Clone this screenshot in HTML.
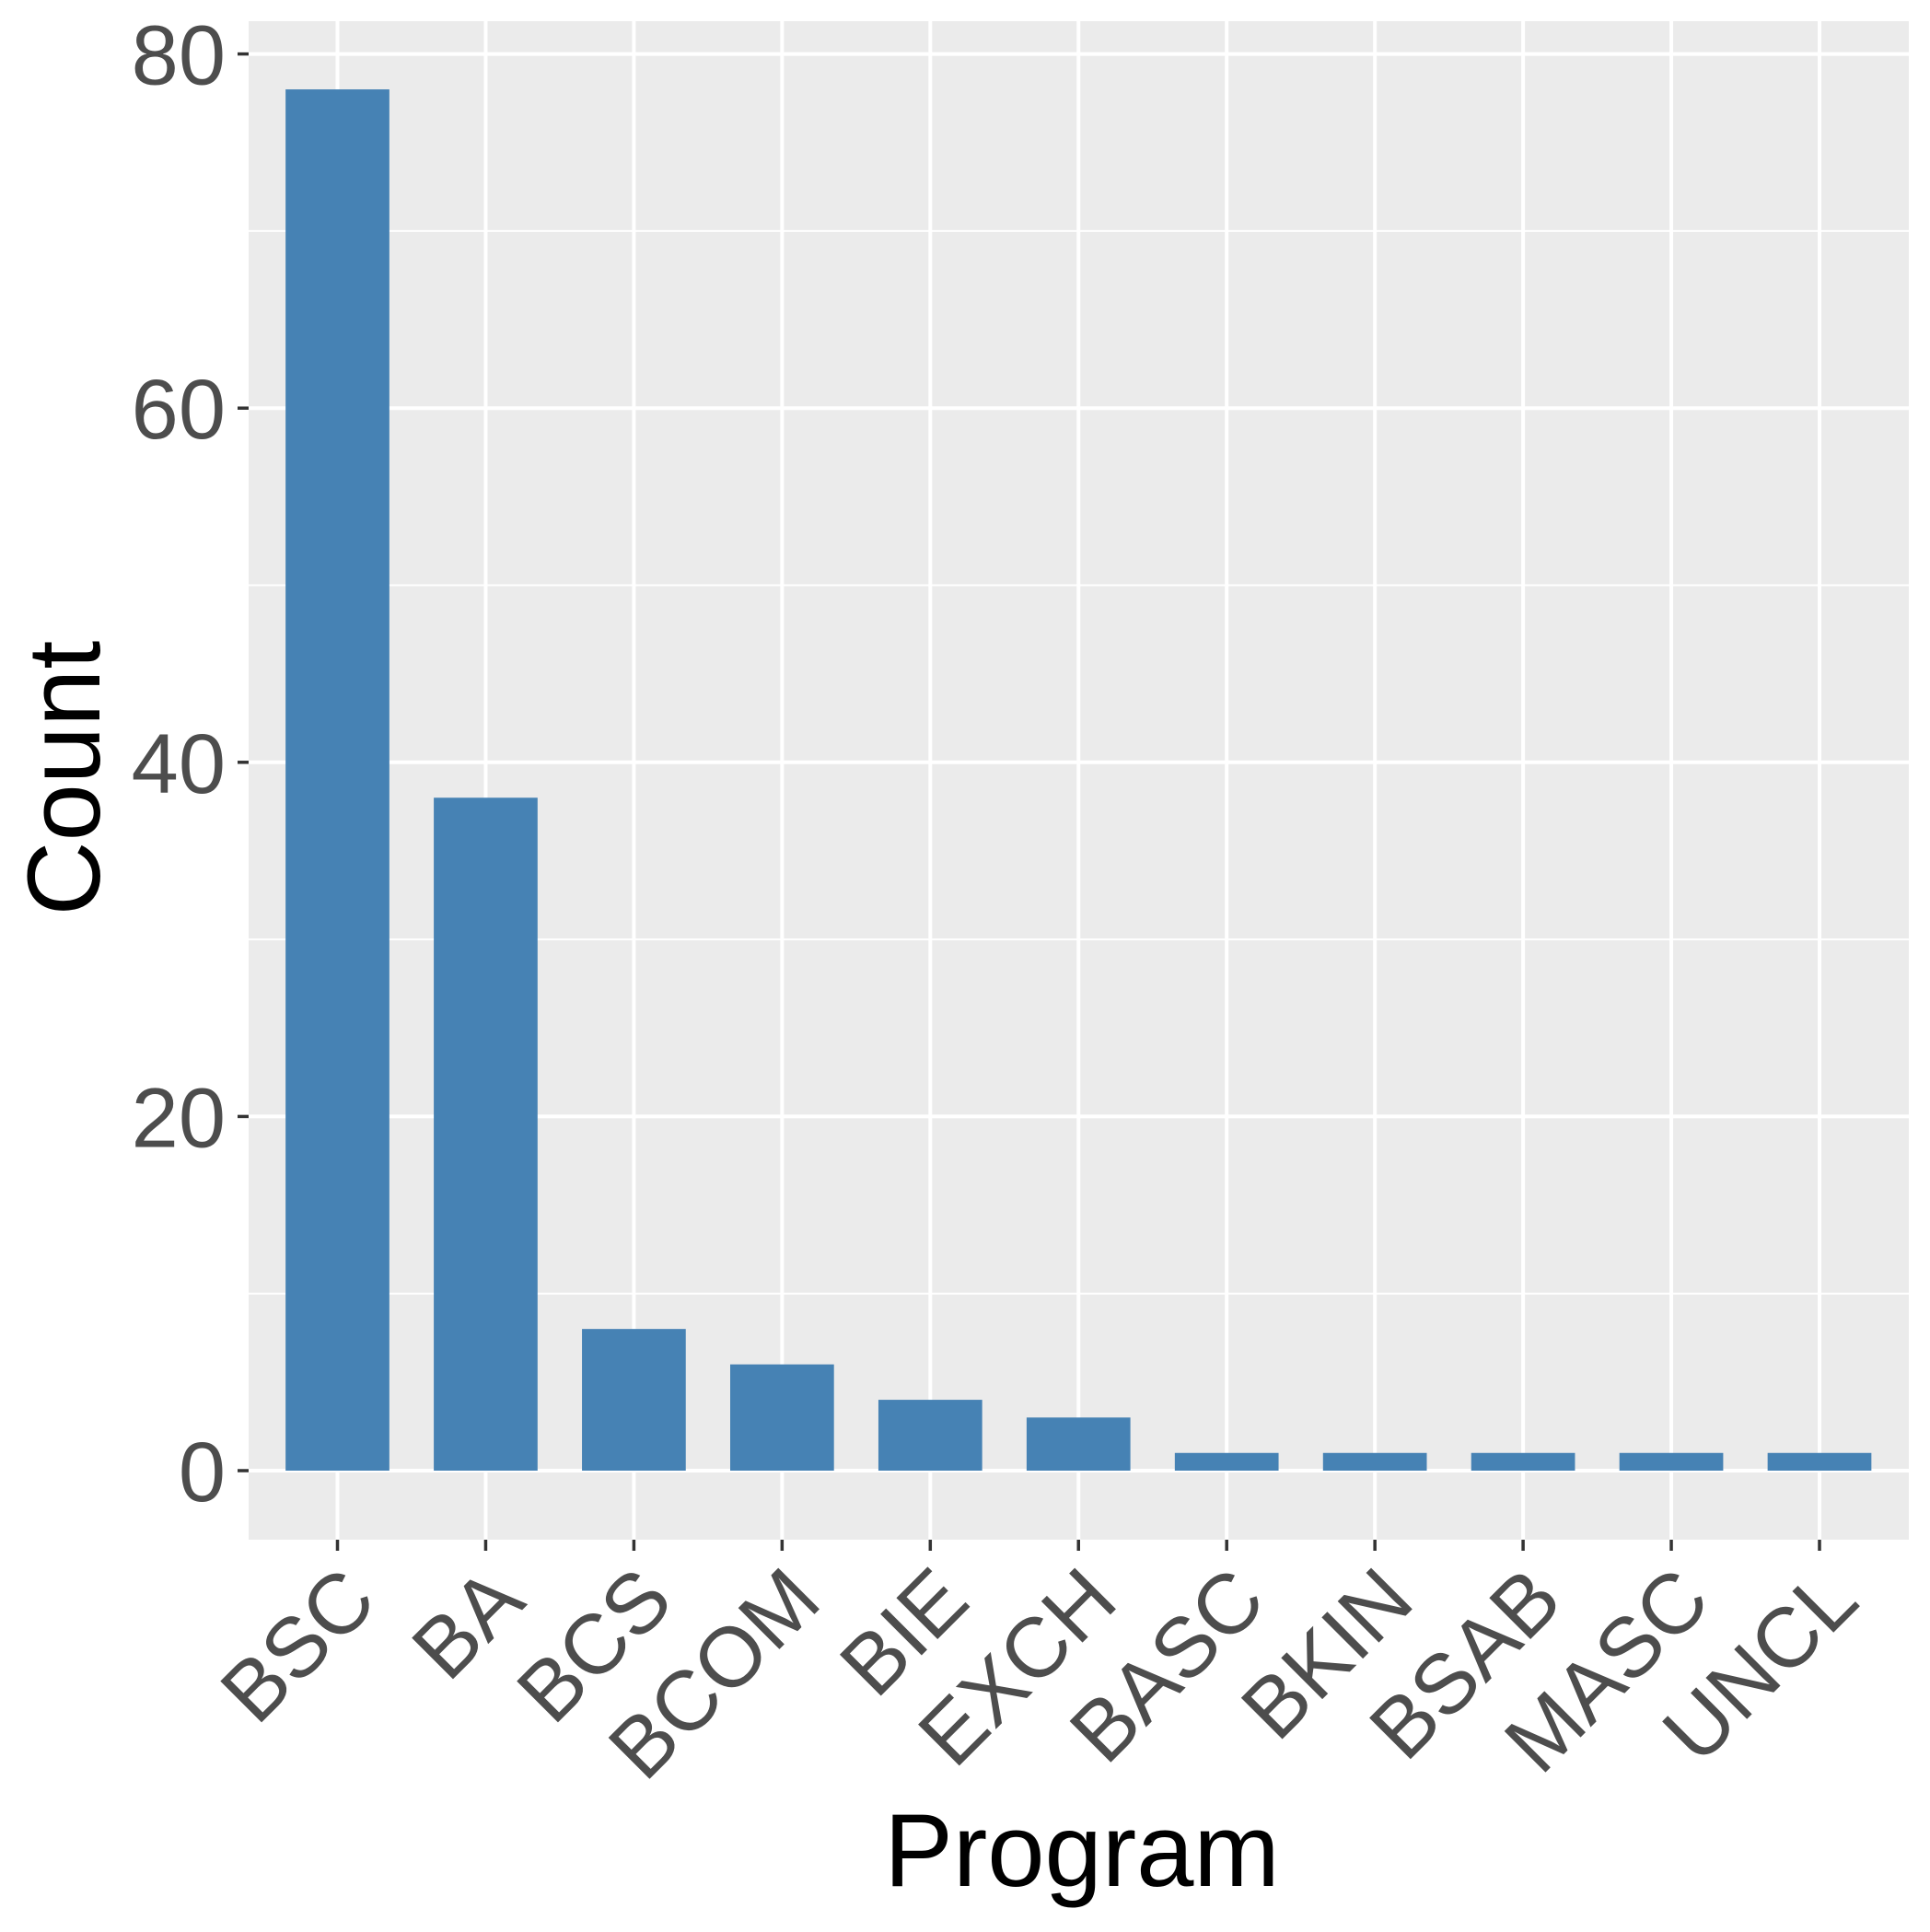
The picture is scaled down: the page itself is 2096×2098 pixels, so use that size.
<!DOCTYPE html>
<html><head><meta charset="utf-8"><style>
html,body{margin:0;padding:0;background:#fff;}
svg{display:block;font-family:"Liberation Sans",Arial,sans-serif;}
</style></head><body>
<svg id="chart" width="2096" height="2098" viewBox="0 0 2096 2098" xmlns="http://www.w3.org/2000/svg">
<rect x="0" y="0" width="2096" height="2098" fill="#fff"/>
<rect x="270" y="23" width="1803" height="1649" fill="#ebebeb"/>
<g id="grid"></g><g id="bars"></g><g id="axes"></g>
<text x="1175" y="2048" font-size="112" text-anchor="middle" fill="#000">Program</text>
<text x="108" y="845" font-size="112" text-anchor="middle" fill="#000" transform="rotate(-90 108 845)">Count</text>
</svg>
<script>
const categories = ["BSC","BA","BCS","BCOM","BIE","EXCH","BASC","BKIN","BSAB","MASC","UNCL"];
const counts = [78,38,8,6,4,3,1,1,1,1,1];
const yTicks = [0,20,40,60,80];
const yMinor = [10,30,50,70];

const NS="http://www.w3.org/2000/svg";
const x0=366.5, step=160.95, barW=112.7;
function xPos(i){return x0+i*step;}
function yPos(v){return 1597 - v*19.23;}
function mk(tag,attrs,parent){const e=document.createElementNS(NS,tag);for(const k in attrs)e.setAttribute(k,attrs[k]);parent.appendChild(e);return e;}
const grid=document.getElementById('grid'), bars=document.getElementById('bars'), axes=document.getElementById('axes');
yMinor.forEach(v=>{const l=mk('line',{x1:270,x2:2073,y1:yPos(v),y2:yPos(v),stroke:'#fff','stroke-width':2},grid);

});
yTicks.forEach(v=>{const l=mk('line',{x1:270,x2:2073,y1:yPos(v),y2:yPos(v),stroke:'#fff','stroke-width':4},grid);


const t=mk('line',{x1:258,x2:270,y1:yPos(v),y2:yPos(v),stroke:'#333','stroke-width':3.5},axes);


const tx=mk('text',{x:245,y:yPos(v)+33,'font-size':92,'text-anchor':'end',fill:'#4d4d4d'},axes);
tx.textContent=v;

});
categories.forEach((c,i)=>{const x=xPos(i);
const g=mk('line',{x1:x,x2:x,y1:23,y2:1672,stroke:'#fff','stroke-width':4},grid);


const b=mk('rect',{x:x-barW/2,y:yPos(counts[i]),width:barW,height:yPos(0)-yPos(counts[i]),fill:'#4682b4'},bars);


const t=mk('line',{x1:x,x2:x,y1:1672,y2:1684,stroke:'#333','stroke-width':3.5},axes);


const ax=x+46, ay=1742;
const tx=mk('text',{x:ax,y:ay,'font-size':92,'text-anchor':'end',fill:'#4d4d4d',transform:`rotate(-45 ${ax} ${ay})`},axes);
tx.textContent=c;

});
</script>
</body></html>
